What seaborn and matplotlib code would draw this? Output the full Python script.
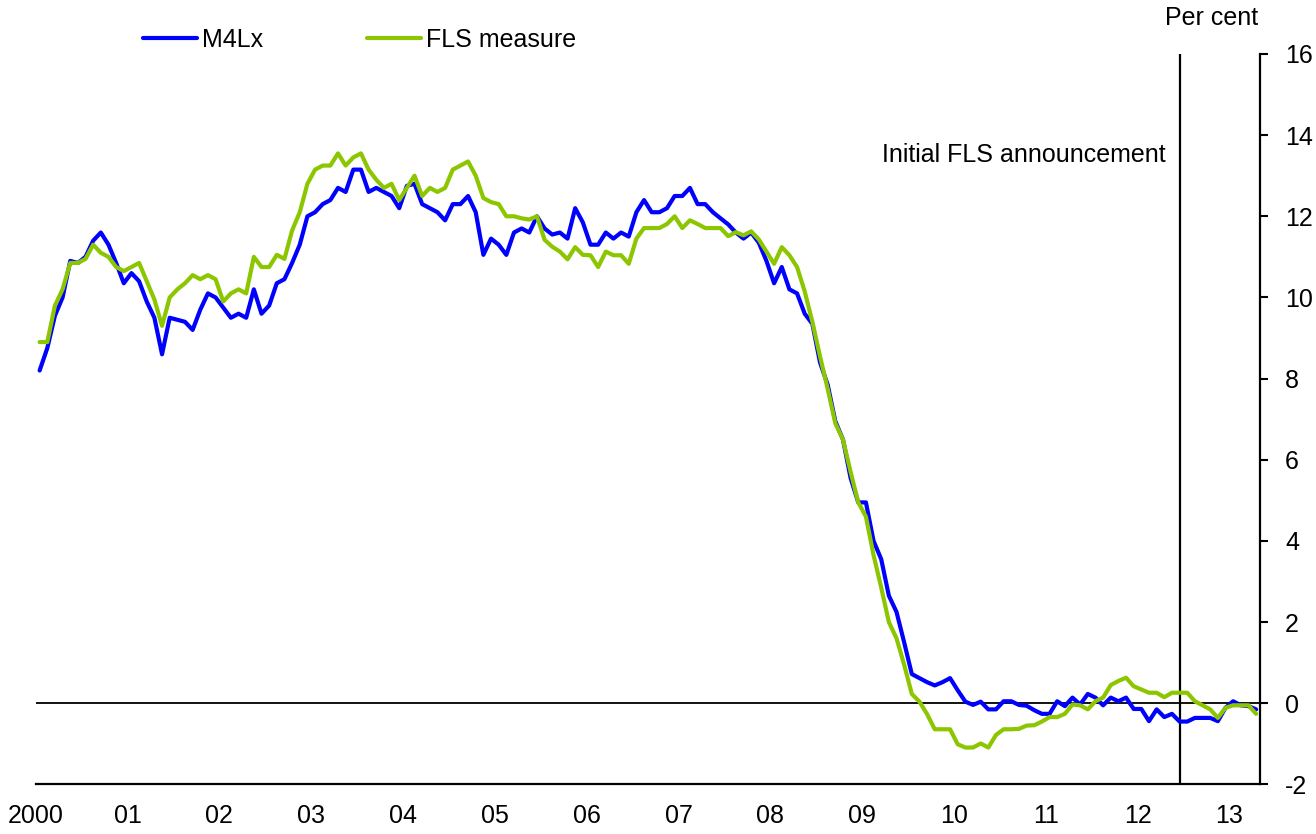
import matplotlib
matplotlib.use("Agg")
import matplotlib.pyplot as plt
import numpy as np
import pandas as pd
import seaborn as sns

# Monthly growth rates, Jan 2000 - Apr 2013 (per cent)
m4lx = [
    8.2, 8.75, 9.55, 10.0, 10.9, 10.85, 11.0, 11.4, 11.6, 11.3, 10.85, 10.35,
    10.6, 10.4, 9.9, 9.5, 8.6, 9.5, 9.45, 9.4, 9.2, 9.7, 10.1, 10.0,
    9.75, 9.5, 9.6, 9.5, 10.2, 9.6, 9.8, 10.35, 10.45, 10.85, 11.3, 12.0,
    12.1, 12.3, 12.4, 12.7, 12.6, 13.15, 13.15, 12.6, 12.7, 12.6, 12.5, 12.2,
    12.75, 12.8, 12.3, 12.2, 12.1, 11.9, 12.3, 12.3, 12.5, 12.1, 11.05, 11.45,
    11.3, 11.05, 11.6, 11.7, 11.6, 12.0, 11.7, 11.55, 11.6, 11.45, 12.2, 11.85,
    11.3, 11.3, 11.6, 11.45, 11.6, 11.5, 12.1, 12.4, 12.1, 12.1, 12.2, 12.5,
    12.5, 12.7, 12.3, 12.3, 12.1, 11.95, 11.8, 11.6, 11.45, 11.6, 11.35, 10.9,
    10.35, 10.75, 10.2, 10.1, 9.6, 9.35, 8.4, 7.85, 6.95, 6.5, 5.55, 4.95,
    4.95, 4.0, 3.55, 2.65, 2.25, 1.5, 0.72, 0.62, 0.52, 0.44, 0.52, 0.62,
    0.32, 0.04, -0.04, 0.04, -0.15, -0.15, 0.05, 0.05, -0.04, -0.06, -0.17, -0.26,
    -0.26, 0.05, -0.07, 0.14, -0.03, 0.23, 0.14, -0.05, 0.14, 0.05, 0.14, -0.14,
    -0.14, -0.44, -0.15, -0.34, -0.26, -0.45, -0.45, -0.36, -0.36, -0.36, -0.44, -0.11,
    0.05, -0.05, -0.07, -0.15,
]
fls_measure = [
    8.9, 8.9, 9.8, 10.2, 10.85, 10.85, 10.95, 11.3, 11.1, 11.0, 10.75, 10.65,
    10.75, 10.85, 10.4, 9.95, 9.3, 10.0, 10.2, 10.35, 10.55, 10.45, 10.55, 10.45,
    9.9, 10.1, 10.2, 10.1, 11.0, 10.75, 10.75, 11.05, 10.95, 11.65, 12.1, 12.8,
    13.15, 13.25, 13.25, 13.55, 13.25, 13.45, 13.55, 13.15, 12.9, 12.7, 12.8, 12.4,
    12.7, 13.0, 12.5, 12.7, 12.6, 12.7, 13.15, 13.25, 13.35, 13.0, 12.45, 12.35,
    12.3, 12.0, 12.0, 11.95, 11.92, 12.0, 11.42, 11.25, 11.13, 10.94, 11.24, 11.05,
    11.04, 10.75, 11.13, 11.04, 11.04, 10.83, 11.45, 11.71, 11.71, 11.71, 11.81, 12.0,
    11.71, 11.9, 11.81, 11.71, 11.71, 11.71, 11.51, 11.61, 11.53, 11.63, 11.43, 11.13,
    10.83, 11.24, 11.04, 10.75, 10.15, 9.4, 8.55, 7.75, 6.9, 6.5, 5.7, 4.95,
    4.6, 3.65, 2.85, 2.0, 1.6, 0.95, 0.23, 0.04, -0.27, -0.64, -0.64, -0.64,
    -1.01, -1.09, -1.09, -0.99, -1.09, -0.78, -0.64, -0.64, -0.63, -0.55, -0.54, -0.45,
    -0.34, -0.34, -0.26, -0.03, -0.05, -0.15, 0.05, 0.14, 0.45, 0.55, 0.63, 0.42,
    0.34, 0.26, 0.26, 0.15, 0.26, 0.26, 0.26, 0.05, -0.05, -0.15, -0.36, -0.11,
    -0.05, -0.05, -0.05, -0.26,
]
year_labels = ["2000", "01", "02", "03", "04", "05", "06",
               "07", "08", "09", "10", "11", "12", "13"]
fls_announcement = (2012, 6)  # year, month

n = len(m4lx)
months = 2000 + (np.arange(n) + 0.5) / 12
df = pd.DataFrame({
    "date": np.concatenate([months, months]),
    "value": m4lx + fls_measure,
    "series": ["M4Lx"] * n + ["FLS measure"] * n,
})

sns.set_style("white")
plt.rcParams["font.family"] = ["Liberation Sans", "DejaVu Sans"]
plt.rcParams["axes.unicode_minus"] = False
plt.rcParams["text.color"] = "black"

fig = plt.figure(figsize=(13.16, 8.34), dpi=100)
ax = fig.add_axes([0.0272, 0.0594, 0.9302, 0.8759])

sns.lineplot(
    data=df, x="date", y="value", hue="series",
    palette={"M4Lx": "#0000ff", "FLS measure": "#8cc600"},
    linewidth=3, errorbar=None, ax=ax,
)

# reference lines
fls_x = fls_announcement[0] + (fls_announcement[1] - 0.5) / 12
ax.axhline(0, color="black", lw=1.3, zorder=1)
ax.axvline(fls_x, color="black", lw=1.6, zorder=1)
ax.text(fls_x - 0.15, 13.5, "Initial FLS announcement", ha="right",
        va="center", fontsize=18, color="black")

ax.set_xlim(2000, 2000 + n / 12)
ax.set_ylim(-2, 16)
ax.set_xticks(range(2000, 2000 + len(year_labels)))
ax.set_xticklabels(year_labels)
ax.set_yticks(range(-2, 17, 2))
ax.yaxis.tick_right()
ax.set(xlabel="", ylabel="")

ax.tick_params(axis="x", direction="in", length=5, width=1.3,
               labelsize=18, pad=14, colors="black")
ax.tick_params(axis="y", direction="out", length=6, width=1.5,
               labelsize=18, pad=12, colors="black", left=False, right=True)

for side in ["top", "left"]:
    ax.spines[side].set_visible(False)
for side in ["bottom", "right"]:
    ax.spines[side].set_color("black")
    ax.spines[side].set_linewidth(1.6)

handles, labels = ax.get_legend_handles_labels()
leg = ax.legend(
    handles, labels, ncol=2, frameon=False, fontsize=18,
    loc="center left", bbox_to_anchor=(143 / 1316, 1 - 40 / 834),
    bbox_transform=fig.transFigure, handlelength=2.16, handletextpad=0.2,
    columnspacing=4.16, borderpad=0, borderaxespad=0,
)
for t in leg.get_texts():
    t.set_color("black")

fig.text(1258 / 1316, 1 - 18 / 834, "Per cent", ha="right", va="center",
         fontsize=18, color="black")

fig.savefig("out.png", dpi=100)
